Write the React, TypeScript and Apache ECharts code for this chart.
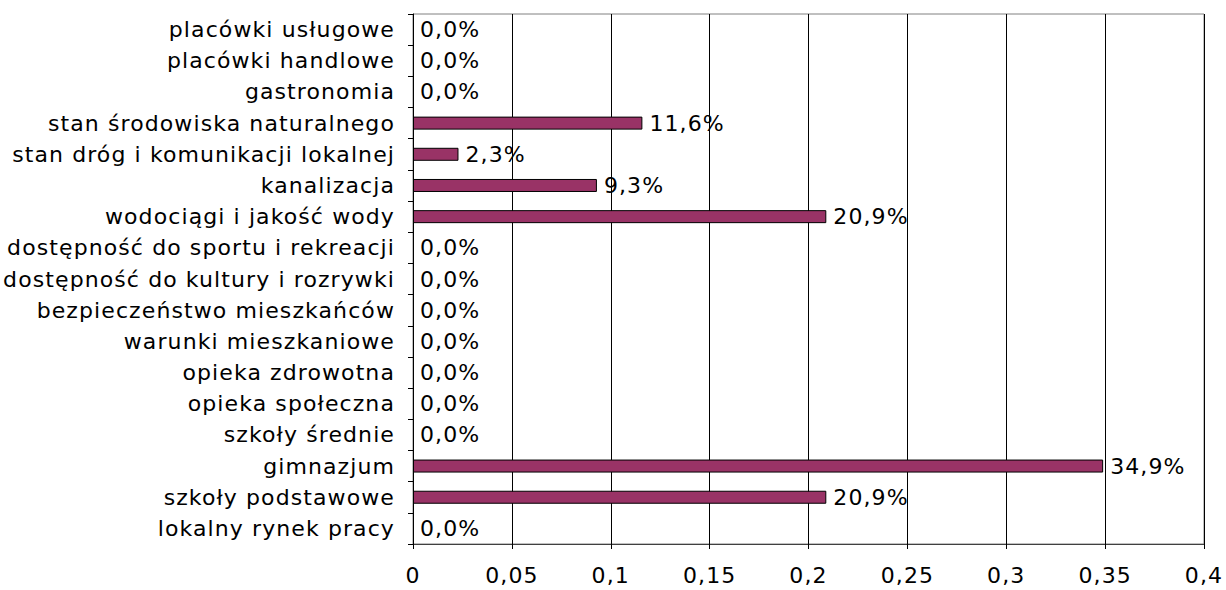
import React, { useEffect, useRef } from "react";
import * as echarts from "echarts";

const categories = [
  "placówki usługowe",
  "placówki handlowe",
  "gastronomia",
  "stan środowiska naturalnego",
  "stan dróg i komunikacji lokalnej",
  "kanalizacja",
  "wodociągi i jakość wody",
  "dostępność do sportu i rekreacji",
  "dostępność do kultury i rozrywki",
  "bezpieczeństwo mieszkańców",
  "warunki mieszkaniowe",
  "opieka zdrowotna",
  "opieka społeczna",
  "szkoły średnie",
  "gimnazjum",
  "szkoły podstawowe",
  "lokalny rynek pracy",
];

const values = [0, 0, 0, 0.116, 0.023, 0.093, 0.209, 0, 0, 0, 0, 0, 0, 0, 0.349, 0.209, 0];

const xMin = 0;
const xMax = 0.4;
const xStep = 0.05;

const FONT = "'DejaVu Sans', Verdana, sans-serif";

export default function App() {
  const ref = useRef<HTMLDivElement>(null);
  useEffect(() => {
    if (!ref.current) return;
    const chart = echarts.init(ref.current, null, { renderer: "svg" });
    chart.setOption({
      animation: false,
      backgroundColor: "#ffffff",
      grid: {
        left: 413,
        top: 14,
        width: 791,
        height: 530,
        containLabel: false,
        show: true,
        borderColor: "#808080",
        borderWidth: 1,
      },
      xAxis: {
        type: "value",
        min: xMin,
        max: xMax,
        interval: xStep,
        axisLine: { show: true, lineStyle: { color: "#404040", width: 1 } },
        axisTick: { show: true, length: 5, lineStyle: { color: "#000" } },
        splitLine: { show: true, lineStyle: { color: "#000", width: 1 } },
        axisLabel: {
          color: "#000",
          fontSize: 22,
          fontFamily: FONT,
          margin: 20,
          formatter: (v: number) => String(parseFloat(v.toFixed(2))).replace(".", ","),
        },
      },
      yAxis: {
        type: "category",
        data: categories,
        inverse: true,
        z: 5,
        axisLine: { show: true, lineStyle: { color: "#000", width: 1 } },
        axisTick: { show: true, length: 5, lineStyle: { color: "#000" } },
        axisLabel: {
          color: "#000",
          fontSize: 22,
          fontFamily: FONT,
          margin: 18,
          interval: 0,
        },
      },
      series: [
        {
          type: "bar",
          data: values.map((v) => ({
            value: v,
            itemStyle: v === 0 ? { borderWidth: 0 } : undefined,
          })),
          barWidth: 13,
          itemStyle: { color: "#993366", borderColor: "#000", borderWidth: 1 },
          label: {
            show: true,
            position: "right",
            distance: 7,
            color: "#000",
            fontSize: 22,
            fontFamily: FONT,
            formatter: (p: any) => (p.value * 100).toFixed(1).replace(".", ",") + "%",
          },
        },
      ],
    });
    return () => chart.dispose();
  }, []);
  return (
    <div
      ref={ref}
      style={{
        position: "fixed",
        left: 0,
        top: 0,
        width: 1226,
        height: 590,
        background: "#fff",
        letterSpacing: "1.1px",
      }}
    />
  );
}
